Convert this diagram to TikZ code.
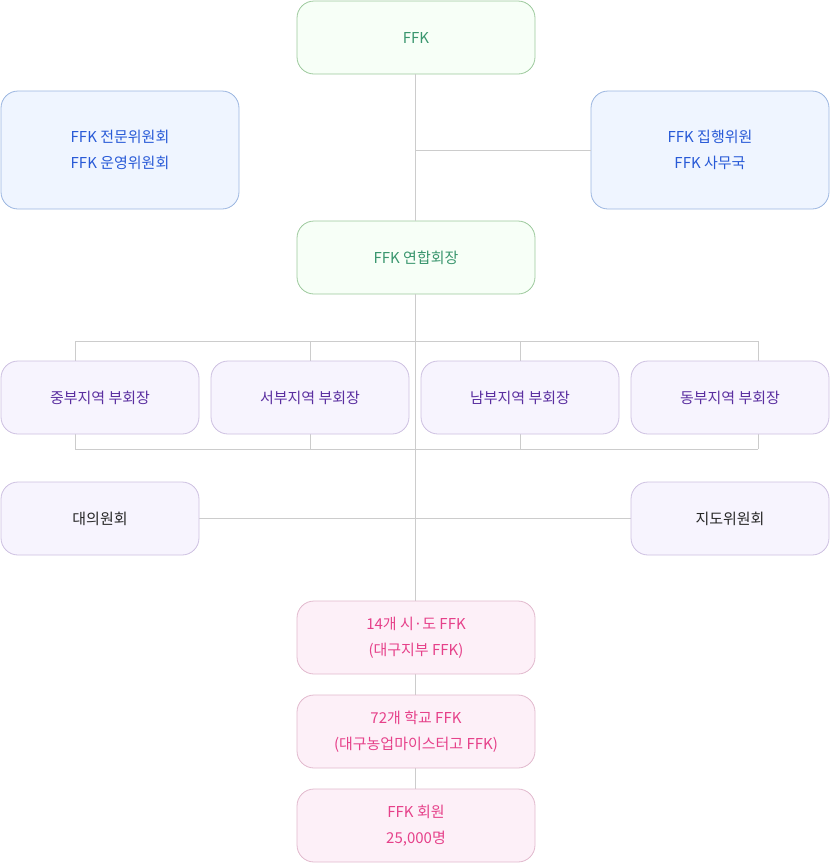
\documentclass[tikz,border=0pt]{standalone}
\usepackage{fontspec}
\setmainfont{Noto Sans CJK KR}
\begin{document}
\begin{tikzpicture}[x=1pt,y=-1pt,
  box/.style={rounded corners=17pt,line width=0.8pt,align=center,font=\fontsize{15}{26}\selectfont,inner sep=0pt},
  grn/.style={box,draw=green!30!gray!60,fill=green!3,text={rgb,255:red,58;green,150;blue,110}},
  blu/.style={box,draw={rgb,255:red,154;green,181;blue,224},fill={rgb,255:red,239;green,245;blue,255},text={rgb,255:red,40;green,90;blue,215}},
  pur/.style={box,draw={rgb,255:red,205;green,192;blue,225},fill={rgb,255:red,247;green,244;blue,254},text={rgb,255:red,90;green,46;blue,160}},
  pnk/.style={box,draw={rgb,255:red,225;green,185;blue,205},fill={rgb,255:red,253;green,240;blue,248},text={rgb,255:red,230;green,65;blue,138}},
  ln/.style={draw={rgb,255:red,204;green,204;blue,204},line width=0.9pt}]
\useasboundingbox (0,0) rectangle (831,863);
\draw[grn] (297,1) rectangle (535,74) node[midway] (ffk) {FFK};
\draw[blu] (1,91) rectangle (239,209) node[midway] (l) {FFK 전문위원회\\FFK 운영위원회};
\draw[blu] (591,91) rectangle (829,209) node[midway] (r) {FFK 집행위원\\FFK 사무국};
\draw[grn] (297,221) rectangle (535,294) node[midway] (u) {FFK 연합회장};
\coordinate (t0) at (415,74); \coordinate (t1) at (415,150); \coordinate (t2) at (591,150);
\coordinate (t3) at (415,221); \coordinate (t4) at (415,294); \coordinate (t5) at (415,601);
\draw[ln] (t0)--(t3) (t1)--(t2) (t4)--(t5);
\coordinate (a) at (75,341); \coordinate (b) at (758,341);
\coordinate (c) at (75,449); \coordinate (d) at (758,449);
\draw[ln] (a)--(b) (c)--(d);
\foreach \x in {75,310,520,758}{\draw[ln] (\x,341)--(\x,361) (\x,434)--(\x,449);}
\draw[pur] (1,361) rectangle (199,434) node[midway] (r1) {중부지역 부회장};
\draw[pur] (211,361) rectangle (409,434) node[midway] (r2) {서부지역 부회장};
\draw[pur] (421,361) rectangle (619,434) node[midway] (r3) {남부지역 부회장};
\draw[pur] (631,361) rectangle (829,434) node[midway] (r4) {동부지역 부회장};
\coordinate (h0) at (199,518); \coordinate (h1) at (631,518);
\draw[ln] (h0)--(h1);
\draw[pur,text=black!85] (1,482) rectangle (199,555) node[midway] (dw) {대의원회};
\draw[pur,text=black!85] (631,482) rectangle (829,555) node[midway] (jd) {지도위원회};
\draw[ln] (415,674)--(415,695) (415,768)--(415,789);
\draw[pnk] (297,601) rectangle (535,674) node[midway] (p1) {14개 시·도 FFK\\(대구지부 FFK)};
\draw[pnk] (297,695) rectangle (535,768) node[midway] (p2) {72개 학교 FFK\\(대구농업마이스터고 FFK)};
\draw[pnk] (297,789) rectangle (535,862) node[midway] (p3) {FFK 회원\\25,000명};
\end{tikzpicture}
\end{document}
